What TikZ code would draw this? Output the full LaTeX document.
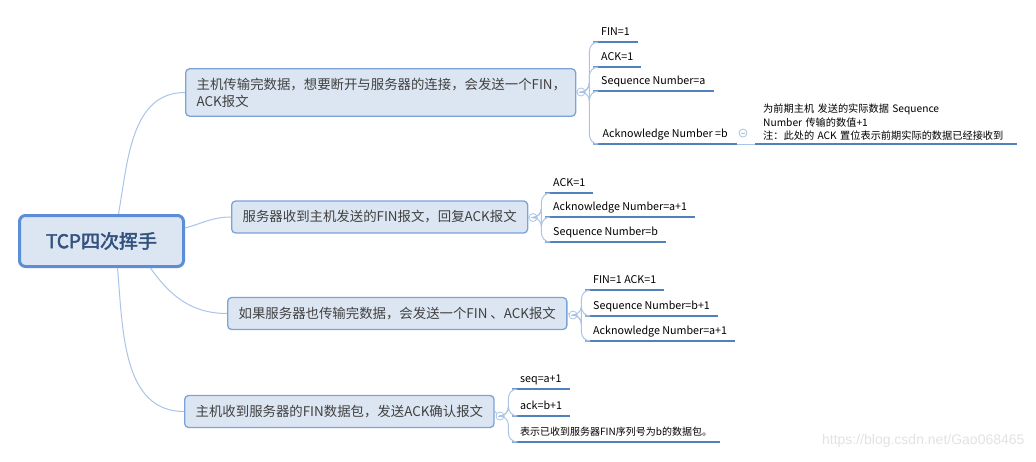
\documentclass[tikz,border=0pt]{standalone}
\usepackage{fontspec}
\setmainfont{Noto Sans CJK SC}[AutoFakeBold=2.5]
\newfontfamily\wmfont{Liberation Sans}
\usetikzlibrary{positioning}
\definecolor{BoxFill}{HTML}{DCE6F2}
\definecolor{BoxLine}{HTML}{7BA3D8}
\definecolor{RootLine}{HTML}{5B8ED6}
\definecolor{RootText}{HTML}{34527F}
\definecolor{TextGray}{HTML}{404040}
\definecolor{LeafLine}{HTML}{4F81BD}
\definecolor{Branch}{HTML}{A9C4E8}
\definecolor{Mark}{HTML}{E2E2E2}
\tikzset{
    rootnode/.style={rectangle, rounded corners=6pt, draw=RootLine, line width=3pt, fill=BoxFill, text=RootText, minimum width=164pt, minimum height=51pt, font=\bfseries\fontsize{19}{22}\selectfont},
    topicnode/.style={rectangle, rounded corners=4pt, draw=BoxLine, line width=1.3pt, fill=BoxFill, text=TextGray, align=left, anchor=west, inner xsep=11pt, minimum height=32pt, font=\fontsize{13.4}{17}\selectfont},
    leafline/.style={draw=LeafLine, line width=1.8pt},
    leafnode/.style={anchor=south west, inner xsep=8pt, inner ysep=3pt, text height=7.8pt, text depth=3pt, text=black, font=\fontsize{10.7}{13}\selectfont,
        append after command={(\tikzlastnode.south west) edge[leafline] (\tikzlastnode.south east)}},
    notenode/.style={anchor=south west, inner xsep=8pt, inner ysep=3pt, text=black, align=left, font=\fontsize{10.2}{13.5}\selectfont,
        append after command={(\tikzlastnode.south west) edge[leafline] (\tikzlastnode.south east)}},
    branch/.style={draw=Branch, line width=1pt},
    spine/.style={draw=Branch, line width=1pt, rounded corners=9pt},
    marker/.style={circle, draw=Branch, fill=white, line width=.8pt, inner sep=0pt, minimum size=8pt,
        path picture={\draw[Branch, line width=.7pt] ([xshift=-2.2pt]path picture bounding box.center) -- ([xshift=2.2pt]path picture bounding box.center);}},
}
\begin{document}
\begin{tikzpicture}[x=1pt, y=-1pt]
    \useasboundingbox (0,0) rectangle (1036,461);
    % root
    \node[rootnode] (root) at (101.5,241) {TCP四次挥手};

    % four steps
    \node[topicnode, text width=368pt, inner ysep=9pt] (b1) at (185,92.5) {主机传输完数据，想要断开与服务器的连接，会发送一个FIN，\\ACK报文};
    \node[topicnode] (b2) at (231,217) {服务器收到主机发送的FIN报文，回复ACK报文};
    \node[topicnode] (b3) at (227,313.5) {如果服务器也传输完数据，会发送一个FIN 、ACK报文};
    \node[topicnode] (b4) at (184,411.5) {主机收到服务器的FIN数据包，发送ACK确认报文};

    \draw[branch] ([xshift=17pt]root.north) to[out=80, in=180] (b1.west);
    \draw[branch] ([yshift=13pt]root.east) to[out=15, in=180] (b2.west);
    \draw[branch] ([xshift=49pt]root.south) to[out=-55, in=180] (b3.west);
    \draw[branch] ([xshift=16pt]root.south) to[out=-85, in=180] (b4.west);

    % markers
    \node[marker] (m1) at (581,92) {};
    \node[marker] (m2) at (533,217.5) {};
    \node[marker] (m3) at (573,315) {};
    \node[marker] (m4) at (500,416) {};
    \draw[branch] (b1.east) -- (m1);
    \draw[branch] (b2.east) -- (m2);
    \draw[branch] (b3.east) -- (m3);
    \draw[branch] (b4.east) -- (m4);

    % fields of step 1
    \node[leafnode] (l11) at (593,42) {FIN=1};
    \node[leafnode] (l12) at (593,67) {ACK=1};
    \node[leafnode] (l13) at (593,91) {Sequence Number=a};
    \node[leafnode, minimum width=144pt] (l14) at (593,144) {Acknowledge Number =b};
    \node[marker] (m5) at (743,133) {};
    \node[notenode, text width=246pt] (note) at (755,144) {为前期主机  发送的实际数据 Sequence\\Number 传输的数值+1\\注：此处的 ACK 置位表示前期实际的数据已经接收到};
    \draw[branch] (l14.south east) -- (note.south west);
    \foreach \leaf in {l11,l12,l13,l14}
        \draw[spine] (m1.east) -- ++(4pt,0) |- (\leaf.south west);

    % fields of step 2
    \node[leafnode] (l21) at (545,193) {ACK=1};
    \node[leafnode] (l22) at (545,217) {Acknowledge Number=a+1};
    \node[leafnode] (l23) at (545,242) {Sequence Number=b};
    \foreach \leaf in {l21,l22,l23}
        \draw[spine] (m2.east) -- ++(4pt,0) |- (\leaf.south west);

    % fields of step 3
    \node[leafnode] (l31) at (585,290) {FIN=1 ACK=1};
    \node[leafnode] (l32) at (585,316) {Sequence Number=b+1};
    \node[leafnode] (l33) at (585,341) {Acknowledge Number=a+1};
    \foreach \leaf in {l31,l32,l33}
        \draw[spine] (m3.east) -- ++(4pt,0) |- (\leaf.south west);

    % fields of step 4
    \node[leafnode] (l41) at (512,389) {seq=a+1};
    \node[leafnode] (l42) at (512,416) {ack=b+1};
    \node[leafnode, font=\fontsize{10}{12}\selectfont] (l43) at (512,442) {表示已收到服务器FIN序列号为b的数据包。};
    \foreach \leaf in {l41,l42,l43}
        \draw[spine] (m4.east) -- ++(4pt,0) |- (\leaf.south west);

    \node[text=Mark, font=\wmfont\fontsize{14}{16}\selectfont, anchor=east] (wm) at (1028,441) {https://blog.csdn.net/Gao068465};
\end{tikzpicture}
\end{document}
